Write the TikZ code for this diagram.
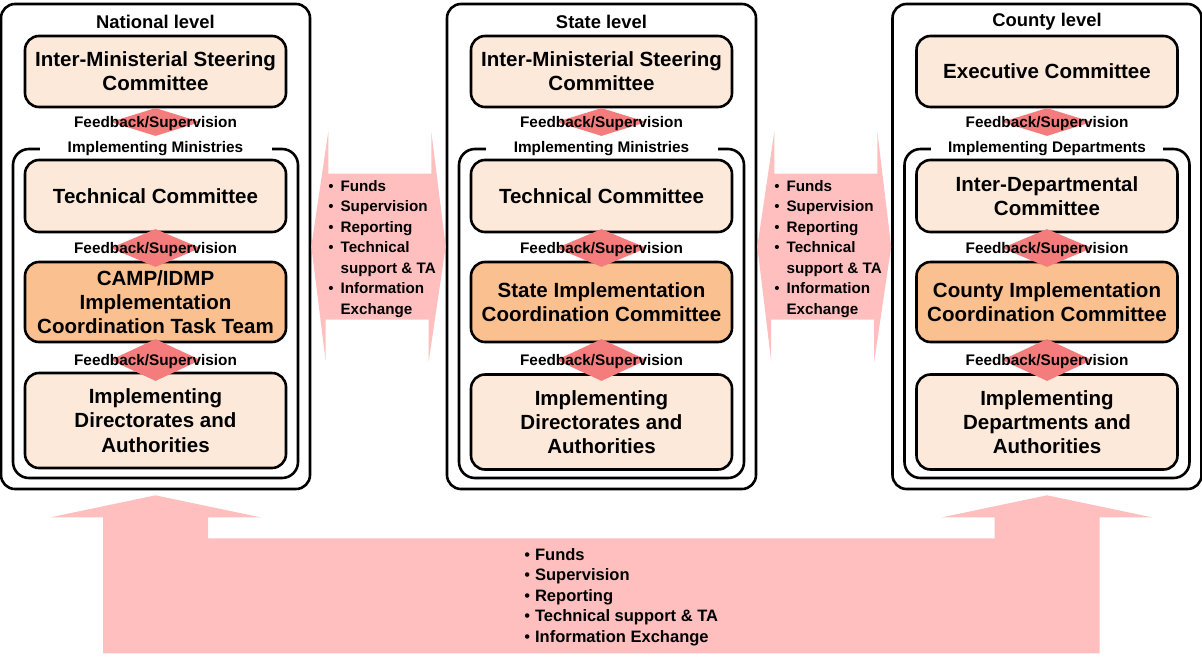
\documentclass[tikz,border=0pt]{standalone}
\usepackage{fontspec}
\setmainfont{Liberation Sans}
\usetikzlibrary{shapes.geometric,calc}
\definecolor{boxlight}{HTML}{FDE9D9}
\definecolor{boxorange}{HTML}{FAC090}
\definecolor{flowpink}{HTML}{FFBFBF}
\definecolor{fbred}{HTML}{F47C7C}
\newdimen\pxu \pxu=0.75pt
\newcommand{\boxfont}{\fontsize{15.4}{18.2}\selectfont\bfseries}
\newcommand{\ttlfont}{\fontsize{13.8}{16}\selectfont\bfseries}
\newcommand{\tagfont}{\fontsize{11.5}{14}\selectfont\bfseries}
\newcommand{\lstfont}{\fontsize{11.4}{15.4}\selectfont\bfseries}
\newcommand{\blt}{{\mdseries\textbullet}}
\tikzset{level/.style={draw,line width=2.6\pxu,rounded corners=14\pxu,fill=white,
    minimum width=309\pxu,minimum height=485\pxu,inner sep=0pt},
  group/.style={draw,line width=2.6\pxu,rounded corners=16\pxu,
    minimum width=285\pxu,minimum height=329\pxu,inner sep=0pt},
  unit/.style={draw,line width=2.6\pxu,rounded corners=14\pxu,fill=boxlight,
    minimum width=261\pxu,align=center,inner sep=0pt,font=\boxfont},
  lead/.style={unit,fill=boxorange},
  fb/.style={diamond,fill=fbred,inner sep=0pt,minimum width=90\pxu},
  tag/.style={font=\tagfont,inner sep=0pt},
  grouptag/.style={tag,fill=white,minimum width=232\pxu,inner ysep=1pt},
  title/.style={font=\ttlfont,inner sep=0pt},
  flow/.style={fill=flowpink},
  lst/.style={font=\lstfont,inner sep=0pt,anchor=west}}

\begin{document}
\begin{tikzpicture}[x=0.75pt,y=-0.75pt]
\useasboundingbox (0,0) rectangle (1202,657);
% the three levels
\foreach \nm/\cx/\ttl in {nat/155.5/National level,st/601.5/State level,co/1047/County level}{
 \node[level] (\nm-lev) at (\cx,246.5) {};
 \node[title] (\nm-ttl) at (\cx,22) {\ttl};
}
% flows between the levels
\fill[flow] (nat-lev.east) -- ++(17,-115) -- ++(0,42) -- ++(103,0) -- ++(0,-42) -- (st-lev.west)
 -- ++(-17,115) -- ++(0,-42) -- ++(-103,0) -- ++(0,42) -- cycle;
\fill[flow] (st-lev.east) -- ++(17,-115) -- ++(0,42) -- ++(103,0) -- ++(0,-42) -- (co-lev.west)
 -- ++(-17,115) -- ++(0,-42) -- ++(-103,0) -- ++(0,42) -- cycle;
\fill[flow] ($(nat-lev.south)+(0,5)$) -- ++(105,22) -- ++(-52.5,0) -- ++(0,21)
 -- ($(co-lev.south)+(-52.5,48)$) -- ++(0,-21) -- ++(-52.5,0) -- ($(co-lev.south)+(0,5)$)
 -- ++(105,22) -- ++(-52.5,0) -- ++(0,136) -| ($(nat-lev.south)+(-52.5,27)$) -- ++(-52.5,0) -- cycle;
\node[lst] (ns-lst) at (328,248.5) {\begin{tabular}{@{}l@{\hspace{7\pxu}}l@{}}
 \blt&Funds\\ \blt&Supervision\\ \blt&Reporting\\ \blt&Technical\\ &support \& TA\\
 \blt&Information\\ &Exchange\end{tabular}};
\node[lst] (sc-lst) at (774,248.5) {\begin{tabular}{@{}l@{\hspace{7\pxu}}l@{}}
 \blt&Funds\\ \blt&Supervision\\ \blt&Reporting\\ \blt&Technical\\ &support \& TA\\
 \blt&Information\\ &Exchange\end{tabular}};
\node[lst,font=\fontsize{12.4}{15.4}\selectfont\bfseries] (nc-lst) at (524,597) {\begin{tabular}{@{}l@{\hspace{5\pxu}}l@{}}
 \blt&Funds\\ \blt&Supervision\\ \blt&Reporting\\ \blt&Technical support \& TA\\
 \blt&Information Exchange\end{tabular}};
% implementing groups
\foreach \nm/\cx/\gt in {nat/155.5/Implementing Ministries,st/601.5/Implementing Ministries,co/1047/Implementing Departments}{
 \node[group] (\nm-grp) at (\cx,313.5) {};
 \node[grouptag] (\nm-gtag) at (\cx,148.5) {\gt};
}
% national
\node[unit,minimum height=71\pxu] (nat-top) at (155.5,71.5) {Inter-Ministerial Steering\\Committee};
\node[unit,minimum height=72\pxu] (nat-tech) at (155.5,196) {Technical Committee};
\node[lead,minimum height=80\pxu] (nat-mid) at (155.5,302) {CAMP/IDMP\\Implementation\\Coordination Task Team};
\node[unit,minimum height=95\pxu] (nat-impl) at (155.5,420.5) {Implementing\\Directorates and\\Authorities};
% state
\node[unit,minimum height=71\pxu] (st-top) at (601.5,71.5) {Inter-Ministerial Steering\\Committee};
\node[unit,minimum height=72\pxu] (st-tech) at (601.5,196) {Technical Committee};
\node[lead,minimum height=80\pxu] (st-mid) at (601.5,302) {State Implementation\\Coordination Committee};
\node[unit,minimum height=95\pxu] (st-impl) at (601.5,422) {Implementing\\Directorates and\\Authorities};
% county
\node[unit,minimum height=71\pxu] (co-top) at (1047,71.5) {Executive Committee};
\node[unit,minimum height=72\pxu] (co-tech) at (1047,196) {Inter-Departmental\\Committee};
\node[lead,minimum height=80\pxu] (co-mid) at (1047,302) {County Implementation\\Coordination Committee};
\node[unit,minimum height=95\pxu] (co-impl) at (1047,422) {Implementing\\Departments and\\Authorities};
% feedback links
\foreach \nm/\cx in {nat/155.5,st/601.5,co/1047}{
 \foreach \y/\h [count=\k] in {122/28,248/38,360/42}{
  \node[fb,minimum height=\h\pxu] (\nm-fb\k) at (\cx,\y) {};
  \node[tag] (\nm-fbt\k) at (\cx,\y+2) {Feedback/Supervision};
 }
}
\end{tikzpicture}
\end{document}
